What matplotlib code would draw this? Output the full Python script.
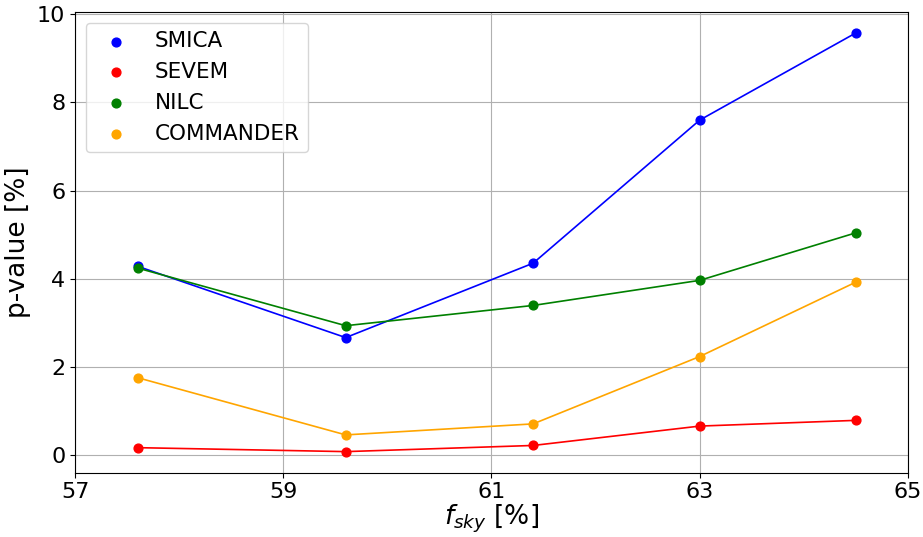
import matplotlib.pyplot as plt

fsky = [57.6, 59.6, 61.4, 63.0, 64.5]
smica = [4.28, 2.66, 4.35, 7.60, 9.58]
sevem = [0.16, 0.07, 0.21, 0.65, 0.78]
nilc = [4.24, 2.93, 3.39, 3.96, 5.04]
commander = [1.75, 0.45, 0.70, 2.23, 3.92]

series = [('SMICA', smica, 'blue'), ('SEVEM', sevem, 'red'),
          ('NILC', nilc, 'green'), ('COMMANDER', commander, 'orange')]

fig, ax = plt.subplots(figsize=(9.23, 5.37), dpi=100)
for name, vals, col in series:
    ax.scatter(fsky, vals, color=col, label=name, s=40, zorder=3)
    ax.plot(fsky, vals, color=col, lw=1.2)

ax.set_xlim(57, 65)
ax.set_xticks([57, 59, 61, 63, 65])
ax.grid(True)
ax.tick_params(labelsize=16)
ax.set_xlabel(r'$f_{sky}$ [%]', fontsize=19, labelpad=0)
ax.set_ylabel('p-value [%]', fontsize=19)
ax.legend(fontsize=15.5, loc='upper left')
fig.subplots_adjust(left=0.0813, right=0.9837, top=0.9777, bottom=0.12)
fig.savefig('out.png')
